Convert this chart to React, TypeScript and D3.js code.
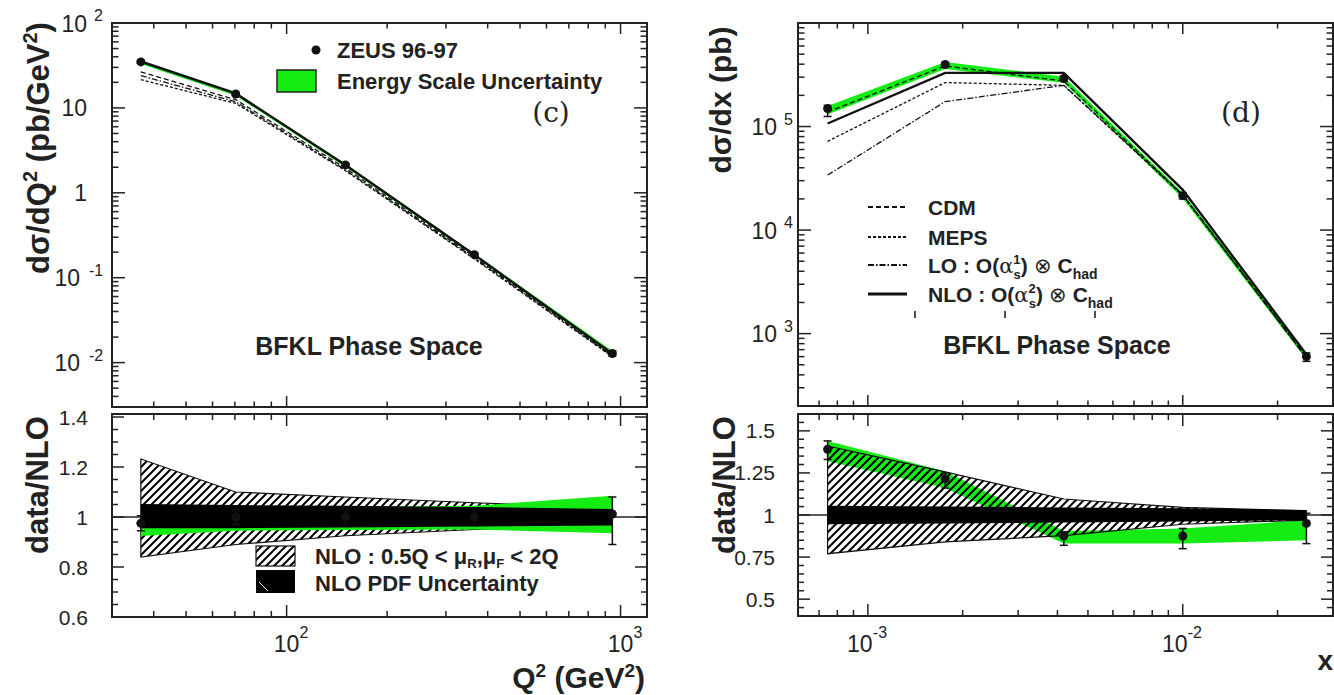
import React from 'react';
import * as d3 from 'd3';

// (c) d sigma / dQ2, BFKL phase space
const q2Centres = [36.6, 70.4, 150, 365, 945];
const q2Data = [34.8, 14.6, 2.13, 0.187, 0.0128];
const q2DataLo = [33.4, 14.0, 2.05, 0.179, 0.0119];
const q2DataHi = [36.2, 15.2, 2.21, 0.195, 0.0137];
const q2EnergyLo = [33.0, 13.9, 2.02, 0.178, 0.0121];
const q2EnergyHi = [36.0, 15.2, 2.18, 0.192, 0.0137];
const q2Nlo = [35.2, 14.8, 2.12, 0.186, 0.0127];
const q2Cdm = [26.5, 12.5, 1.95, 0.176, 0.0122];
const q2Meps = [21.5, 11.3, 1.82, 0.166, 0.0117];
const q2Lo = [24.0, 11.8, 1.86, 0.17, 0.0119];

// data/NLO under (c)
const q2Ratio = [0.975, 1.0, 1.0, 1.0, 1.012];
const q2RatioLo = [0.945, 0.97, 0.97, 0.965, 0.89];
const q2RatioHi = [1.005, 1.03, 1.03, 1.035, 1.08];
const q2ScaleLo = [0.84, 0.89, 0.925, 0.95, 0.96];
const q2ScaleHi = [1.232, 1.1, 1.08, 1.057, 1.035];
const q2PdfLo = [0.955, 0.955, 0.958, 0.962, 0.966];
const q2PdfHi = [1.052, 1.048, 1.045, 1.04, 1.032];
const q2EnergyRatioLo = [0.924, 0.945, 0.948, 0.95, 0.935];
const q2EnergyRatioHi = [1.02, 1.03, 1.04, 1.045, 1.085];

// (d) d sigma / dx, BFKL phase space
const xCentres = [7.45e-4, 1.76e-3, 4.19e-3, 1.0e-2, 2.47e-2];
const xData = [1.49e5, 3.97e5, 2.91e5, 2.15e4, 600];
const xDataLo = [1.25e5, 3.75e5, 2.75e5, 2.0e4, 540];
const xDataHi = [1.6e5, 4.15e5, 3.05e5, 2.3e4, 650];
const xEnergyLo = [1.31e5, 3.6e5, 2.65e5, 2.02e4, 560];
const xEnergyHi = [1.58e5, 4.2e5, 3.02e5, 2.28e4, 640];
const xNlo = [1.07e5, 3.3e5, 3.3e5, 2.45e4, 630];
const xCdm = [1.38e5, 3.85e5, 2.75e5, 2.2e4, 600];
const xMeps = [7.2e4, 2.66e5, 2.5e5, 2.15e4, 590];
const xLo = [3.4e4, 1.74e5, 2.5e5, 2.2e4, 580];

// data/NLO under (d)
const xRatio = [1.39, 1.215, 0.875, 0.875, 0.95];
const xRatioLo = [1.33, 1.16, 0.82, 0.8, 0.83];
const xRatioHi = [1.44, 1.25, 0.9, 0.92, 1.01];
const xScaleLo = [0.77, 0.84, 0.877, 0.945, 0.97];
const xScaleHi = [1.41, 1.256, 1.095, 1.045, 1.025];
const xPdfLo = [0.945, 0.95, 0.955, 0.962, 0.97];
const xPdfHi = [1.055, 1.05, 1.045, 1.04, 1.03];
const xEnergyRatioLo = [1.32, 1.16, 0.83, 0.83, 0.85];
const xEnergyRatioHi = [1.44, 1.26, 0.905, 0.92, 0.97];

// tick labels
const q2YTicks = [100, 10, 1, 0.1, 0.01];
const q2XTicks = [100, 1000];
const q2RatioTicks = [0.6, 0.8, 1, 1.2, 1.4];
const xYTicks = [1e5, 1e4, 1e3];
const xXTicks = [1e-3, 1e-2];
const xRatioTicks = [0.5, 0.75, 1, 1.25, 1.5];

const font = "'Liberation Sans', Arial, Helvetica, sans-serif";
const GREEN = '#14ec14';

type Box = { x0: number; x1: number; y0: number; y1: number };

function logTicks(domain: number[]) {
  const [a, b] = domain;
  const out: { v: number; major: boolean }[] = [];
  for (let e = Math.floor(Math.log10(a)); e <= Math.ceil(Math.log10(b)); e++) {
    for (let k = 1; k < 10; k++) {
      const v = k * Math.pow(10, e);
      if (v > a * 1.001 && v < b * 0.999) out.push({ v, major: k === 1 });
    }
  }
  return out;
}

function linTicks(domain: number[], step: number, majors: number[]) {
  const out: { v: number; major: boolean }[] = [];
  const n0 = Math.ceil(domain[0] / step - 1e-6);
  const n1 = Math.floor(domain[1] / step + 1e-6);
  for (let n = n0; n <= n1; n++) {
    const v = +(n * step).toFixed(4);
    if (v <= domain[0] + 1e-6 || v >= domain[1] - 1e-6) continue;
    out.push({ v, major: majors.some(m => Math.abs(m - v) < 1e-6) });
  }
  return out;
}

function frameTicks(key: string, xs: any, ys: any, xt: any[], yt: any[], b: Box, lx: number, ly: number) {
  const els: any[] = [];
  xt.forEach((t, i) => {
    const x = xs(t.v);
    const l = t.major ? lx : lx * 0.5;
    els.push(<line key={`${key}xb${i}`} x1={x} x2={x} y1={b.y1} y2={b.y1 - l} />);
    els.push(<line key={`${key}xt${i}`} x1={x} x2={x} y1={b.y0} y2={b.y0 + l} />);
  });
  yt.forEach((t, i) => {
    const y = ys(t.v);
    const l = t.major ? ly : ly * 0.5;
    els.push(<line key={`${key}yl${i}`} x1={b.x0} x2={b.x0 + l} y1={y} y2={y} />);
    els.push(<line key={`${key}yr${i}`} x1={b.x1} x2={b.x1 - l} y1={y} y2={y} />);
  });
  return <g stroke="#222" strokeWidth={1.5}>{els}</g>;
}

function yPowLabel(key: string, v: number, x0: number, y: number, off: number) {
  const e = Math.round(Math.log10(v));
  if (e === 0 || e === 1) {
    return (
      <text key={key} x={x0 - off} y={y + 8.5} textAnchor="end" fontSize={23}>
        {e === 0 ? '1' : '10'}
      </text>
    );
  }
  const neg = e < 0;
  const baseEnd = x0 - off - (neg ? 7 : 0);
  return (
    <g key={key}>
      <text x={baseEnd} y={y + 8.5} textAnchor="end" fontSize={23}>10</text>
      <text x={baseEnd + (neg ? 9 : 7)} y={y - 2} fontSize={16}>{String(e)}</text>
    </g>
  );
}

function xPowLabel(key: string, v: number, x: number) {
  const e = Math.round(Math.log10(v));
  const neg = e < 0;
  const c = x - (neg ? 8 : 0);
  return (
    <g key={key}>
      <text x={c} y={652} textAnchor="middle" fontSize={23}>10</text>
      <text x={c + 13} y={638} fontSize={16}>{String(e)}</text>
    </g>
  );
}

function band(xs: any, ys: any, cx: number[], lo: number[], hi: number[]) {
  return d3
    .area<number>()
    .x((_, i) => xs(cx[i]))
    .y0((_, i) => ys(lo[i]))
    .y1((_, i) => ys(hi[i]))(lo) as string;
}

function curve(xs: any, ys: any, cx: number[], vals: number[]) {
  return d3
    .line<number>()
    .x((_, i) => xs(cx[i]))
    .y(d => ys(d))(vals) as string;
}

function points(key: string, xs: any, ys: any, cx: number[], v: number[], lo: number[], hi: number[]) {
  return (
    <g key={key} stroke="#111" strokeWidth={1.5} fill="#111">
      {cx.map((c, i) => {
        const x = xs(c);
        return (
          <g key={i}>
            <line x1={x} x2={x} y1={ys(lo[i])} y2={ys(hi[i])} />
            <line x1={x - 4} x2={x + 4} y1={ys(lo[i])} y2={ys(lo[i])} />
            <line x1={x - 4} x2={x + 4} y1={ys(hi[i])} y2={ys(hi[i])} />
            <circle cx={x} cy={ys(v[i])} r={4.5} stroke="none" />
          </g>
        );
      })}
    </g>
  );
}

export default function App() {
  const bLt: Box = { x0: 112, x1: 647, y0: 23, y1: 407 };
  const bLb: Box = { x0: 112, x1: 647, y0: 414, y1: 617 };
  const bRt: Box = { x0: 798, x1: 1333, y0: 23, y1: 406 };
  const bRb: Box = { x0: 798, x1: 1333, y0: 414, y1: 616 };

  const xL = d3.scaleLog().domain([30, 1200]).range([bLt.x0, bLt.x1]);
  const yLt = d3.scaleLog().domain([0.003, 100]).range([bLt.y1, bLt.y0]);
  const yLb = d3.scaleLinear().domain([0.6, 1.412]).range([bLb.y1, bLb.y0]);
  const xR = d3.scaleLog().domain([6e-4, 3e-2]).range([bRt.x0, bRt.x1]);
  const yRt = d3.scaleLog().domain([200, 1e6]).range([bRt.y1, bRt.y0]);
  const yRb = d3.scaleLinear().domain([0.4, 1.6]).range([bRb.y1, bRb.y0]);

  const xLTicks = logTicks(xL.domain());
  const xRTicks = logTicks(xR.domain());

  const frame = (b: Box) => (
    <rect x={b.x0} y={b.y0} width={b.x1 - b.x0} height={b.y1 - b.y0} fill="none" stroke="#222" strokeWidth={2} />
  );

  return (
    <svg
      width={1334}
      height={695}
      style={{ position: 'absolute', left: 0, top: 0, background: '#fff' }}
      fontFamily={font}
      fill="#222"
    >
      <defs>
        <pattern id="hatch" patternUnits="userSpaceOnUse" width={8} height={8}>
          <path d="M-2,2 L2,-2 M0,8 L8,0 M6,10 L10,6" stroke="#000" strokeWidth={2} />
        </pattern>
      </defs>
      <rect width={1334} height={695} fill="#fff" />

      {/* ---------- (c) top ---------- */}
      <path d={band(xL, yLt, q2Centres, q2EnergyLo, q2EnergyHi)} fill={GREEN} />
      <g fill="none" stroke="#111" strokeWidth={1.3}>
        <path d={curve(xL, yLt, q2Centres, q2Cdm)} strokeDasharray="5,3" />
        <path d={curve(xL, yLt, q2Centres, q2Meps)} strokeDasharray="3,2" />
        <path d={curve(xL, yLt, q2Centres, q2Lo)} strokeDasharray="6,2,1.5,2" />
        <path d={curve(xL, yLt, q2Centres, q2Nlo)} strokeWidth={2.4} />
      </g>
      {points('pLt', xL, yLt, q2Centres, q2Data, q2DataLo, q2DataHi)}
      {frameTicks('Lt', xL, yLt, xLTicks, logTicks(yLt.domain()), bLt, 11, 13)}
      {frame(bLt)}
      {q2YTicks.map((v, i) => yPowLabel(`ylt${i}`, v, bLt.x0, yLt(v), 25))}

      <circle cx={316} cy={50} r={4.5} fill="#111" />
      <text x={337} y={58} fontSize={22} fontWeight="bold">ZEUS 96-97</text>
      <rect x={277} y={70} width={39} height={22} fill={GREEN} stroke="#222" strokeWidth={1.5} />
      <text x={337} y={89} fontSize={22} fontWeight="bold">Energy Scale Uncertainty</text>
      <text x={551} y={122} fontSize={28} textAnchor="middle" fontFamily="'DejaVu Serif', 'Liberation Serif', serif">(c)</text>
      <text x={369} y={355} fontSize={25} fontWeight="bold" textAnchor="middle">BFKL Phase Space</text>

      <text transform="translate(49,148) rotate(-90)" textAnchor="middle" fontSize={31} fontWeight="bold">
        dσ/dQ<tspan dy={-12} fontSize={20}>2</tspan>
        <tspan dy={12}> (pb/GeV</tspan>
        <tspan dy={-12} fontSize={20}>2</tspan>
        <tspan dy={12}>)</tspan>
      </text>

      {/* ---------- (c) ratio ---------- */}
      <line x1={bLb.x0} x2={bLb.x1} y1={yLb(1)} y2={yLb(1)} stroke="#222" strokeWidth={1.5} />
      <path d={band(xL, yLb, q2Centres, q2ScaleLo, q2ScaleHi)} fill="#fff" />
      <path d={band(xL, yLb, q2Centres, q2ScaleLo, q2ScaleHi)} fill="url(#hatch)" stroke="#111" strokeWidth={1.2} />
      <path d={band(xL, yLb, q2Centres, q2EnergyRatioLo, q2EnergyRatioHi)} fill={GREEN} />
      <path d={band(xL, yLb, q2Centres, q2PdfLo, q2PdfHi)} fill="#000" />
      {points('pLb', xL, yLb, q2Centres, q2Ratio, q2RatioLo, q2RatioHi)}
      {frameTicks('Lb', xL, yLb, xLTicks, linTicks(yLb.domain(), 0.05, q2RatioTicks), bLb, 12, 12)}
      {frame(bLb)}
      {q2RatioTicks.map((v, i) => (
        <text key={`rl${i}`} x={bLb.x0 - 24} y={yLb(v) + 7.5} textAnchor="end" fontSize={21}>{String(v)}</text>
      ))}
      {q2XTicks.map((v, i) => xPowLabel(`xl${i}`, v, xL(v)))}

      <rect x={256} y={546} width={39} height={20} fill="#fff" />
      <rect x={256} y={546} width={39} height={20} fill="url(#hatch)" stroke="#111" strokeWidth={1.2} />
      <rect x={256} y={570} width={39} height={23} fill="#000" />
      <line x1={259} y1={582} x2={268} y2={591} stroke="#fff" strokeWidth={1} />
      <text x={315} y={564} fontSize={22} fontWeight="bold">
        NLO : 0.5Q {'<'} μ<tspan dy={4} fontSize={13}>R</tspan>
        <tspan dy={-4}>,μ</tspan>
        <tspan dy={4} fontSize={13}>F</tspan>
        <tspan dy={-4}> {'<'} 2Q</tspan>
      </text>
      <text x={315} y={591} fontSize={22} fontWeight="bold">NLO PDF Uncertainty</text>

      <text transform="translate(48,485) rotate(-90)" textAnchor="middle" fontSize={31} fontWeight="bold">data/NLO</text>
      <text x={645} y={688} textAnchor="end" fontSize={30} fontWeight="bold">
        Q<tspan dy={-11} fontSize={19}>2</tspan>
        <tspan dy={11}> (GeV</tspan>
        <tspan dy={-11} fontSize={19}>2</tspan>
        <tspan dy={11}>)</tspan>
      </text>

      {/* ---------- (d) top ---------- */}
      <path d={band(xR, yRt, xCentres, xEnergyLo, xEnergyHi)} fill={GREEN} />
      <g fill="none" stroke="#111" strokeWidth={1.3}>
        <path d={curve(xR, yRt, xCentres, xCdm)} strokeDasharray="5,3" />
        <path d={curve(xR, yRt, xCentres, xMeps)} strokeDasharray="3,2" />
        <path d={curve(xR, yRt, xCentres, xLo)} strokeDasharray="6,2,1.5,2" />
        <path d={curve(xR, yRt, xCentres, xNlo)} strokeWidth={2.4} />
      </g>
      {points('pRt', xR, yRt, xCentres, xData, xDataLo, xDataHi)}
      {frameTicks('Rt', xR, yRt, xRTicks, logTicks(yRt.domain()), bRt, 11, 13)}
      {frame(bRt)}
      {xYTicks.map((v, i) => yPowLabel(`yrt${i}`, v, bRt.x0, yRt(v), 21))}

      <g stroke="#111" fill="none">
        <line x1={868} x2={907} y1={207} y2={207} strokeWidth={2} strokeDasharray="5,3" />
        <line x1={868} x2={907} y1={237} y2={237} strokeWidth={2} strokeDasharray="3,2" />
        <line x1={868} x2={907} y1={265} y2={265} strokeWidth={2} strokeDasharray="6,2,1.5,2" />
        <line x1={868} x2={907} y1={294} y2={294} strokeWidth={3} />
        <line x1={915} x2={915} y1={311} y2={318} strokeWidth={1.5} />
        <line x1={1005} x2={1005} y1={311} y2={318} strokeWidth={1.5} />
        <line x1={1095} x2={1095} y1={311} y2={318} strokeWidth={1.5} />
      </g>
      <g fontSize={21} fontWeight="bold">
        <text x={928} y={215}>CDM</text>
        <text x={928} y={245}>MEPS</text>
        <text x={928} y={273}>
          LO : O(<tspan fontFamily="'DejaVu Serif', serif" fontWeight="normal">α</tspan>
          <tspan dy={-9} fontSize={13}>1</tspan>
          <tspan dx={-7} dy={15} fontSize={13}>s</tspan>
          <tspan dy={-6}>) </tspan>
          <tspan fontWeight="normal">⊗</tspan> C<tspan dy={6} fontSize={14}>had</tspan>
        </text>
        <text x={928} y={302}>
          NLO : O(<tspan fontFamily="'DejaVu Serif', serif" fontWeight="normal">α</tspan>
          <tspan dy={-9} fontSize={13}>2</tspan>
          <tspan dx={-7} dy={15} fontSize={13}>s</tspan>
          <tspan dy={-6}>) </tspan>
          <tspan fontWeight="normal">⊗</tspan> C<tspan dy={6} fontSize={14}>had</tspan>
        </text>
      </g>
      <text x={1241} y={122} fontSize={28} textAnchor="middle" fontFamily="'DejaVu Serif', 'Liberation Serif', serif">(d)</text>
      <text x={1057} y={354} fontSize={25} fontWeight="bold" textAnchor="middle">BFKL Phase Space</text>
      <text transform="translate(731,100) rotate(-90)" textAnchor="middle" fontSize={30} fontWeight="bold">dσ/dx (pb)</text>

      {/* ---------- (d) ratio ---------- */}
      <line x1={bRb.x0} x2={bRb.x1} y1={yRb(1)} y2={yRb(1)} stroke="#222" strokeWidth={1.5} />
      <path d={band(xR, yRb, xCentres, xEnergyRatioLo, xEnergyRatioHi)} fill={GREEN} />
      <path d={band(xR, yRb, xCentres, xScaleLo, xScaleHi)} fill="url(#hatch)" stroke="#111" strokeWidth={1.2} />
      <path d={band(xR, yRb, xCentres, xPdfLo, xPdfHi)} fill="#000" />
      {points('pRb', xR, yRb, xCentres, xRatio, xRatioLo, xRatioHi)}
      {frameTicks('Rb', xR, yRb, xRTicks, linTicks(yRb.domain(), 0.05, xRatioTicks), bRb, 12, 12)}
      {frame(bRb)}
      {xRatioTicks.map((v, i) => (
        <text key={`rr${i}`} x={bRb.x0 - 23} y={yRb(v) + 7.5} textAnchor="end" fontSize={21}>{String(v)}</text>
      ))}
      {xXTicks.map((v, i) => xPowLabel(`xr${i}`, v, xR(v)))}
      <text transform="translate(735,485) rotate(-90)" textAnchor="middle" fontSize={31} fontWeight="bold">data/NLO</text>
      <text x={1333} y={670} textAnchor="end" fontSize={28} fontWeight="bold">x</text>
    </svg>
  );
}
